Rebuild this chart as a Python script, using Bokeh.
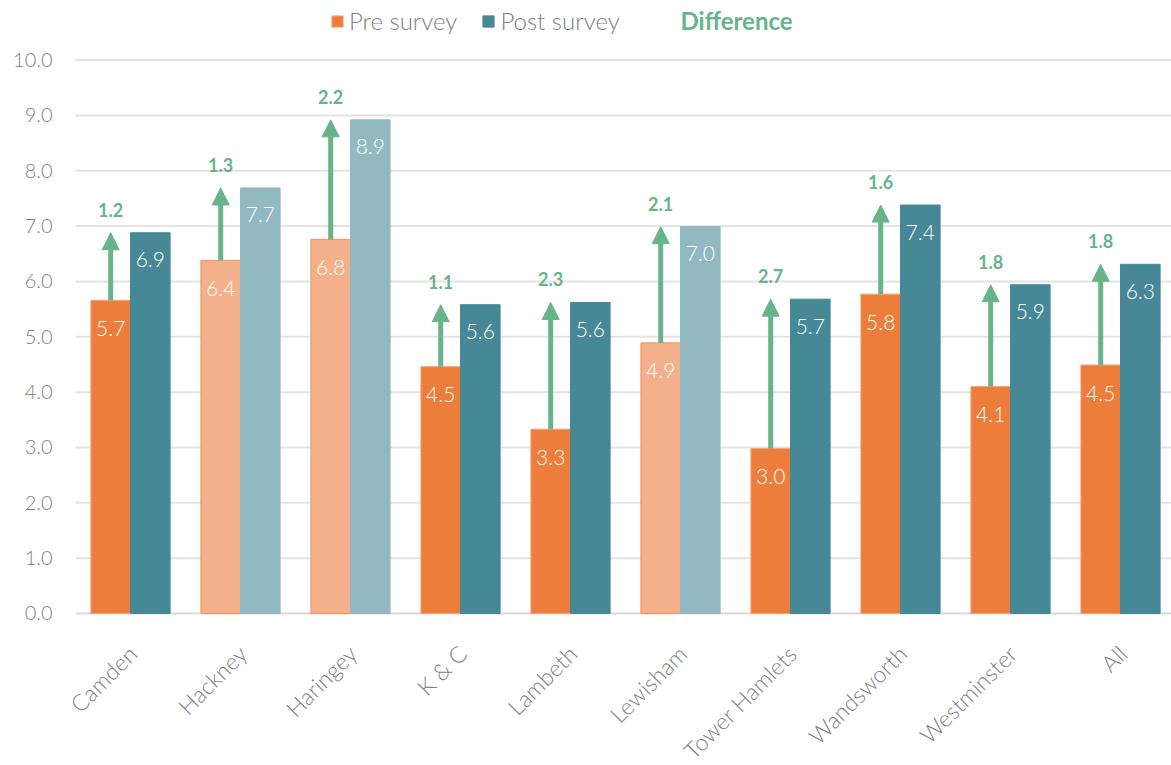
import math
from bokeh.plotting import figure
from bokeh.models import (ColumnDataSource, Range1d, Arrow, NormalHead, Legend,
                          LegendItem, Label)
from bokeh.core.properties import value
from bokeh.embed import file_html
from bokeh.resources import INLINE

# ---- data ----
categories = ["Camden", "Hackney", "Haringey", "K & C", "Lambeth", "Lewisham",
              "Tower Hamlets", "Wandsworth", "Westminster", "All"]
pre_survey = [5.66, 6.38, 6.76, 4.46, 3.33, 4.89, 2.98, 5.77, 4.10, 4.49]
post_survey = [6.88, 7.69, 8.92, 5.58, 5.62, 6.99, 5.68, 7.38, 5.94, 6.31]
faded = ["Hackney", "Haringey", "Lewisham"]
y_ticks = [0, 1, 2, 3, 4, 5, 6, 7, 8, 9, 10]

# ---- styles ----
FONT = "Lato Light"
BFONT = "Lato"
PRE = "#ED7D3A"
PRE_LIGHT = "#F3B08A"
POST = "#468896"
POST_LIGHT = "#92B8C1"
GREEN = "#67B48A"
GREY = "#808080"

n = len(categories)
idx = list(range(n))
BW = 0.36
is_faded = [c in faded for c in categories]

# The frame covers the whole canvas, so rotated category labels and the
# value-axis labels (drawn as text) are never clipped.
PX_X = 110.0     # px per category
PX_Y = 55.34     # px per unit
X0 = -0.5 - 75 / PX_X
X1 = X0 + 1171 / PX_X
Y0 = -152 / PX_Y
Y1 = 10.95

src = ColumnDataSource(dict(
    x=idx,
    x_pre=[i - 0.18 for i in idx],
    x_post=[i + 0.18 for i in idx],
    pre=pre_survey,
    post=post_survey,
    pre_lab=[f"{v:.1f}" for v in pre_survey],
    post_lab=[f"{v:.1f}" for v in post_survey],
    diff_lab=[f"{b - a:.1f}" for a, b in zip(pre_survey, post_survey)],
    pre_col=[PRE_LIGHT if f else PRE for f in is_faded],
    pre_line=["#EE955F" if f else "#F2A47A" for f in is_faded],
    post_col=[POST_LIGHT if f else POST for f in is_faded],
))
cat_src = ColumnDataSource(dict(x=idx, y=[0] * n, name=categories))
tick_src = ColumnDataSource(dict(
    x0=[-0.5] * len(y_ticks), x1=[X1] * len(y_ticks), y=y_ticks,
    lab=[f"{t:.1f}" for t in y_ticks],
    col=["#D9D9D9" if t == 0 else "#E3E3E3" for t in y_ticks],
))

p = figure(width=1171, height=765, output_backend="svg", toolbar_location=None,
           x_range=Range1d(X0, X1), y_range=Range1d(Y0, Y1),
           min_border_left=0, min_border_right=0, min_border_top=7, min_border_bottom=0)
p.outline_line_color = None
p.background_fill_color = "white"
p.border_fill_color = "white"
p.xaxis.visible = False
p.yaxis.visible = False
p.xgrid.grid_line_color = None
p.ygrid.grid_line_color = None

# horizontal grid lines and value-axis labels
p.segment(x0="x0", y0="y", x1="x1", y1="y", source=tick_src, line_color="col",
          line_width=2)
p.text(x="x0", y="y", text="lab", source=tick_src, x_offset=-23, text_align="right",
       text_baseline="middle", text_font=value(FONT), text_font_size="20px",
       text_color=GREY)

r_pre = p.vbar(x="x_pre", top="pre", width=BW, source=src, fill_color="pre_col",
               line_color="pre_line", line_width=1)
r_post = p.vbar(x="x_post", top="post", width=BW, source=src, fill_color="post_col",
                line_color="post_col", line_width=1)

# arrows
p.add_layout(Arrow(end=NormalHead(size=17, fill_color=GREEN, line_color=GREEN),
                   x_start="x_pre", y_start="pre", x_end="x_pre", y_end="post",
                   line_color=GREEN, line_width=5, source=src))

# value labels inside bars
p.text(x="x_pre", y="pre", text="pre_lab", source=src, text_color="white",
       text_font=value(FONT), text_font_size="21px", text_align="center",
       text_baseline="middle", y_offset=28)
p.text(x="x_post", y="post", text="post_lab", source=src, text_color="white",
       text_font=value(FONT), text_font_size="21px", text_align="center",
       text_baseline="middle", y_offset=27)
# difference labels
p.text(x="x_pre", y="post", text="diff_lab", source=src, text_color=GREEN,
       text_font=value(BFONT), text_font_style="bold", text_font_size="18px",
       text_align="center", text_baseline="middle", y_offset=-23)

# category labels, rotated, below the zero line
p.text(x="x", y="y", text="name", source=cat_src, angle=math.pi / 4,
       y_offset=36, x_offset=2, text_align="right", text_baseline="middle",
       text_font=value(FONT), text_font_size="23px", text_color=GREY)

# legend
legend = Legend(items=[LegendItem(label="Pre survey", renderers=[r_pre]),
                       LegendItem(label="Post survey", renderers=[r_post])],
                orientation="horizontal", location=(330, 730),
                glyph_width=14, glyph_height=14, label_standoff=5, spacing=24,
                padding=0, margin=0, border_line_alpha=0, background_fill_alpha=0,
                label_text_font=FONT, label_text_font_size="24px",
                label_text_color=GREY, label_height=24)
p.add_layout(legend)
p.add_layout(Label(x=5.0, y=10.72, text="Difference", text_color=GREEN,
                   text_font=BFONT, text_font_style="bold", text_font_size="24px",
                   text_baseline="middle", text_align="left"))

open("out.html", "w").write(file_html(p, INLINE))
